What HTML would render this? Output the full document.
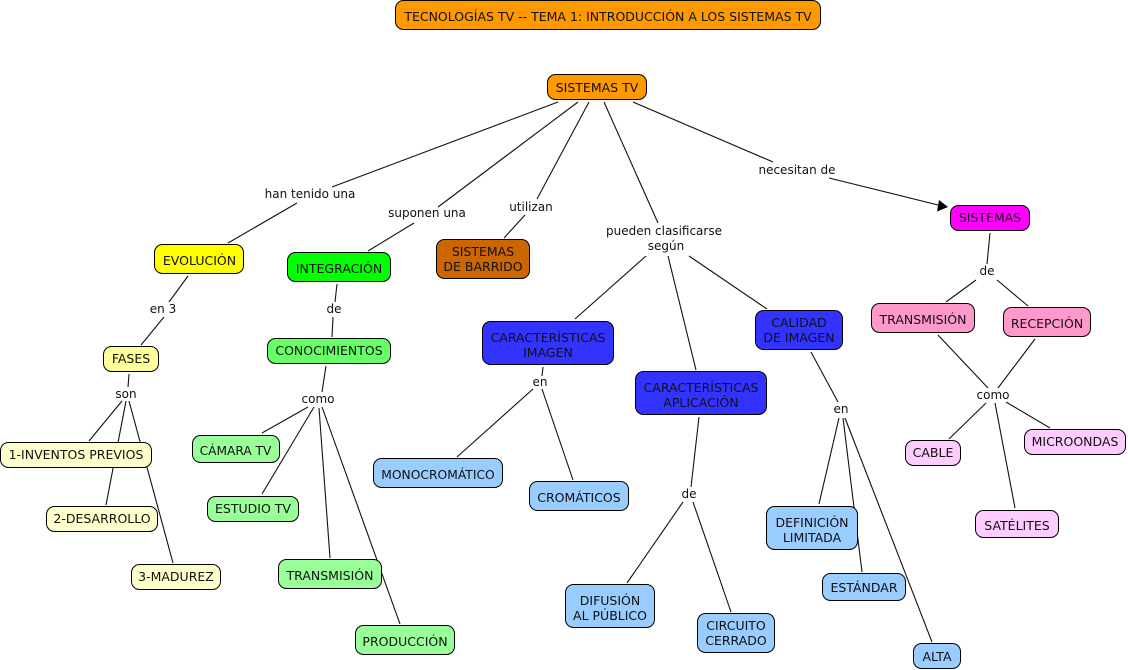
<!DOCTYPE html>
<html><head><meta charset="utf-8"><style>
html,body{margin:0;padding:0;background:#fff}
svg{display:block}
text{font-family:"DejaVu Sans",Verdana,sans-serif;font-size:12.5px;text-anchor:middle;fill:#111}
.l text{font-size:12px}
line{stroke:#111;stroke-width:1.1}
rect{stroke:#000;stroke-width:1}
</style></head><body>
<svg width="1128" height="670" viewBox="0 0 1128 670" xmlns="http://www.w3.org/2000/svg">
<rect x="0" y="0" width="1128" height="670" style="fill:#fff;stroke:none"/>
<g>
<line x1="558" y1="102" x2="332" y2="187"/><line x1="297" y1="203" x2="228" y2="243"/>
<line x1="578" y1="102" x2="438" y2="207"/><line x1="414" y1="223" x2="368" y2="251"/>
<line x1="589" y1="102" x2="537" y2="199"/><line x1="525" y1="215" x2="504" y2="238"/>
<line x1="604" y1="102" x2="658" y2="223"/><line x1="646" y1="256" x2="575" y2="319"/>
<line x1="668" y1="256" x2="696" y2="370"/><line x1="689" y1="256" x2="767" y2="309"/>
<line x1="633" y1="102" x2="773" y2="162"/><line x1="829" y1="178" x2="938" y2="205"/>
<line x1="188" y1="276" x2="169" y2="302"/><line x1="164" y1="317" x2="141" y2="345"/>
<line x1="129" y1="374" x2="128" y2="387"/><line x1="122" y1="401" x2="89" y2="441"/>
<line x1="126" y1="401" x2="106" y2="505"/><line x1="129" y1="401" x2="173" y2="563"/>
<line x1="337" y1="284" x2="335" y2="302"/><line x1="333" y1="317" x2="332" y2="337"/>
<line x1="326" y1="366" x2="322" y2="392"/><line x1="308" y1="407" x2="262" y2="433"/>
<line x1="314" y1="407" x2="262" y2="494"/><line x1="319" y1="408" x2="330" y2="558"/>
<line x1="322" y1="407" x2="400" y2="624"/>
<line x1="543" y1="367" x2="542" y2="376"/><line x1="533" y1="389" x2="457" y2="457"/>
<line x1="542" y1="389" x2="573" y2="480"/>
<line x1="699" y1="417" x2="691" y2="487"/><line x1="683" y1="502" x2="627" y2="583"/>
<line x1="693" y1="502" x2="731" y2="612"/>
<line x1="811" y1="352" x2="838" y2="402"/><line x1="839" y1="418" x2="819" y2="504"/>
<line x1="843" y1="418" x2="862" y2="572"/><line x1="845" y1="418" x2="932" y2="642"/>
<line x1="990" y1="233" x2="987" y2="264"/><line x1="976" y1="280" x2="946" y2="302"/>
<line x1="997" y1="280" x2="1028" y2="306"/>
<line x1="938" y1="335" x2="988" y2="388"/><line x1="1035" y1="339" x2="998" y2="388"/>
<line x1="986" y1="403" x2="949" y2="439"/><line x1="995" y1="403" x2="1015" y2="508"/>
<line x1="1006" y1="402" x2="1050" y2="428"/>
<polygon points="948,207 937,211.5 939,200" fill="#000"/>
</g>
<g>
<rect x="395.5" y="0.5" width="425" height="29" rx="8" fill="#ff9900"/>
<rect x="547.5" y="74.5" width="99" height="25" rx="8" fill="#ff9900"/>
<rect x="154.5" y="244.5" width="89" height="29" rx="8" fill="#ffff00"/>
<rect x="287.5" y="252.5" width="103" height="29" rx="8" fill="#00ff00"/>
<rect x="436.5" y="239.5" width="93" height="39" rx="8" fill="#cc6600"/>
<rect x="482.5" y="321.5" width="131" height="43" rx="8" fill="#3333ff"/>
<rect x="635.5" y="371.5" width="131" height="43" rx="8" fill="#3333ff"/>
<rect x="755.5" y="310.5" width="87" height="39" rx="8" fill="#3333ff"/>
<rect x="950.5" y="205.5" width="79" height="25" rx="8" fill="#ff00ff"/>
<rect x="871.5" y="303.5" width="103" height="29" rx="8" fill="#ff99cc"/>
<rect x="1003.5" y="307.5" width="87" height="29" rx="8" fill="#ff99cc"/>
<rect x="103.5" y="346.5" width="55" height="25" rx="8" fill="#ffff99"/>
<rect x="0.5" y="442.5" width="151" height="25" rx="8" fill="#ffffcc"/>
<rect x="46.5" y="506.5" width="111" height="25" rx="8" fill="#ffffcc"/>
<rect x="131.5" y="564.5" width="89" height="25" rx="8" fill="#ffffcc"/>
<rect x="267.5" y="338.5" width="123" height="25" rx="8" fill="#66ff66"/>
<rect x="192.5" y="435.5" width="87" height="27" rx="8" fill="#99ff99"/>
<rect x="207.5" y="496.5" width="91" height="25" rx="8" fill="#99ff99"/>
<rect x="278.5" y="559.5" width="103" height="29" rx="8" fill="#99ff99"/>
<rect x="355.5" y="625.5" width="99" height="29" rx="8" fill="#99ff99"/>
<rect x="373.5" y="458.5" width="129" height="29" rx="8" fill="#99ccff"/>
<rect x="529.5" y="481.5" width="99" height="29" rx="8" fill="#99ccff"/>
<rect x="565.5" y="584.5" width="89" height="43" rx="8" fill="#99ccff"/>
<rect x="697.5" y="613.5" width="77" height="39" rx="8" fill="#99ccff"/>
<rect x="766.5" y="506.5" width="91" height="43" rx="8" fill="#99ccff"/>
<rect x="822.5" y="573.5" width="83" height="27" rx="8" fill="#99ccff"/>
<rect x="913.5" y="643.5" width="47" height="25" rx="8" fill="#99ccff"/>
<rect x="905.5" y="440.5" width="55" height="25" rx="8" fill="#ffccff"/>
<rect x="975.5" y="510.5" width="83" height="27" rx="8" fill="#ffccff"/>
<rect x="1024.5" y="429.5" width="101" height="25" rx="8" fill="#ffccff"/>
</g>
<g>
<text x="608" y="21">TECNOLOGÍAS TV -- TEMA 1: INTRODUCCIÓN A LOS SISTEMAS TV</text>
<text x="597" y="92">SISTEMAS TV</text>
<text x="199.5" y="265">EVOLUCIÓN</text>
<text x="339" y="273">INTEGRACIÓN</text>
<text x="483" y="256">SISTEMAS</text><text x="483" y="271">DE BARRIDO</text>
<text x="548" y="342">CARACTERÍSTICAS</text><text x="548" y="357">IMAGEN</text>
<text x="701" y="392">CARACTERÍSTICAS</text><text x="701" y="407">APLICACIÓN</text>
<text x="799" y="327">CALIDAD</text><text x="799" y="342">DE IMAGEN</text>
<text x="990" y="222">SISTEMAS</text>
<text x="923" y="324">TRANSMISIÓN</text>
<text x="1047" y="328">RECEPCIÓN</text>
<text x="131" y="363">FASES</text>
<text x="76" y="459">1-INVENTOS PREVIOS</text>
<text x="102" y="523">2-DESARROLLO</text>
<text x="176" y="581">3-MADUREZ</text>
<text x="329" y="355">CONOCIMIENTOS</text>
<text x="235.5" y="455" style="font-size:12.2px">CÁMARA TV</text>
<text x="253" y="513">ESTUDIO TV</text>
<text x="330" y="580">TRANSMISIÓN</text>
<text x="405" y="646">PRODUCCIÓN</text>
<text x="438" y="479" style="font-size:12.3px">MONOCROMÁTICO</text>
<text x="579" y="502">CROMÁTICOS</text>
<text x="610" y="605">DIFUSIÓN</text><text x="610" y="620">AL PÚBLICO</text>
<text x="736" y="630">CIRCUITO</text><text x="736" y="645">CERRADO</text>
<text x="812" y="527">DEFINICIÓN</text><text x="812" y="542">LIMITADA</text>
<text x="864" y="592">ESTÁNDAR</text>
<text x="937" y="661">ALTA</text>
<text x="933" y="457">CABLE</text>
<text x="1017" y="530">SATÉLITES</text>
<text x="1075" y="446">MICROONDAS</text>
</g>
<g class="l">
<text x="310" y="198">han tenido una</text>
<text x="427" y="217">suponen una</text>
<text x="531" y="211">utilizan</text>
<text x="664" y="235">pueden clasificarse</text><text x="666" y="250">según</text>
<text x="797" y="174">necesitan de</text>
<text x="987" y="275">de</text>
<text x="163" y="313">en 3</text>
<text x="126" y="398">son</text>
<text x="334" y="313">de</text>
<text x="318" y="403">como</text>
<text x="540" y="386">en</text>
<text x="689" y="498">de</text>
<text x="841" y="413">en</text>
<text x="993" y="399">como</text>
</g>
</svg>
</body></html>
